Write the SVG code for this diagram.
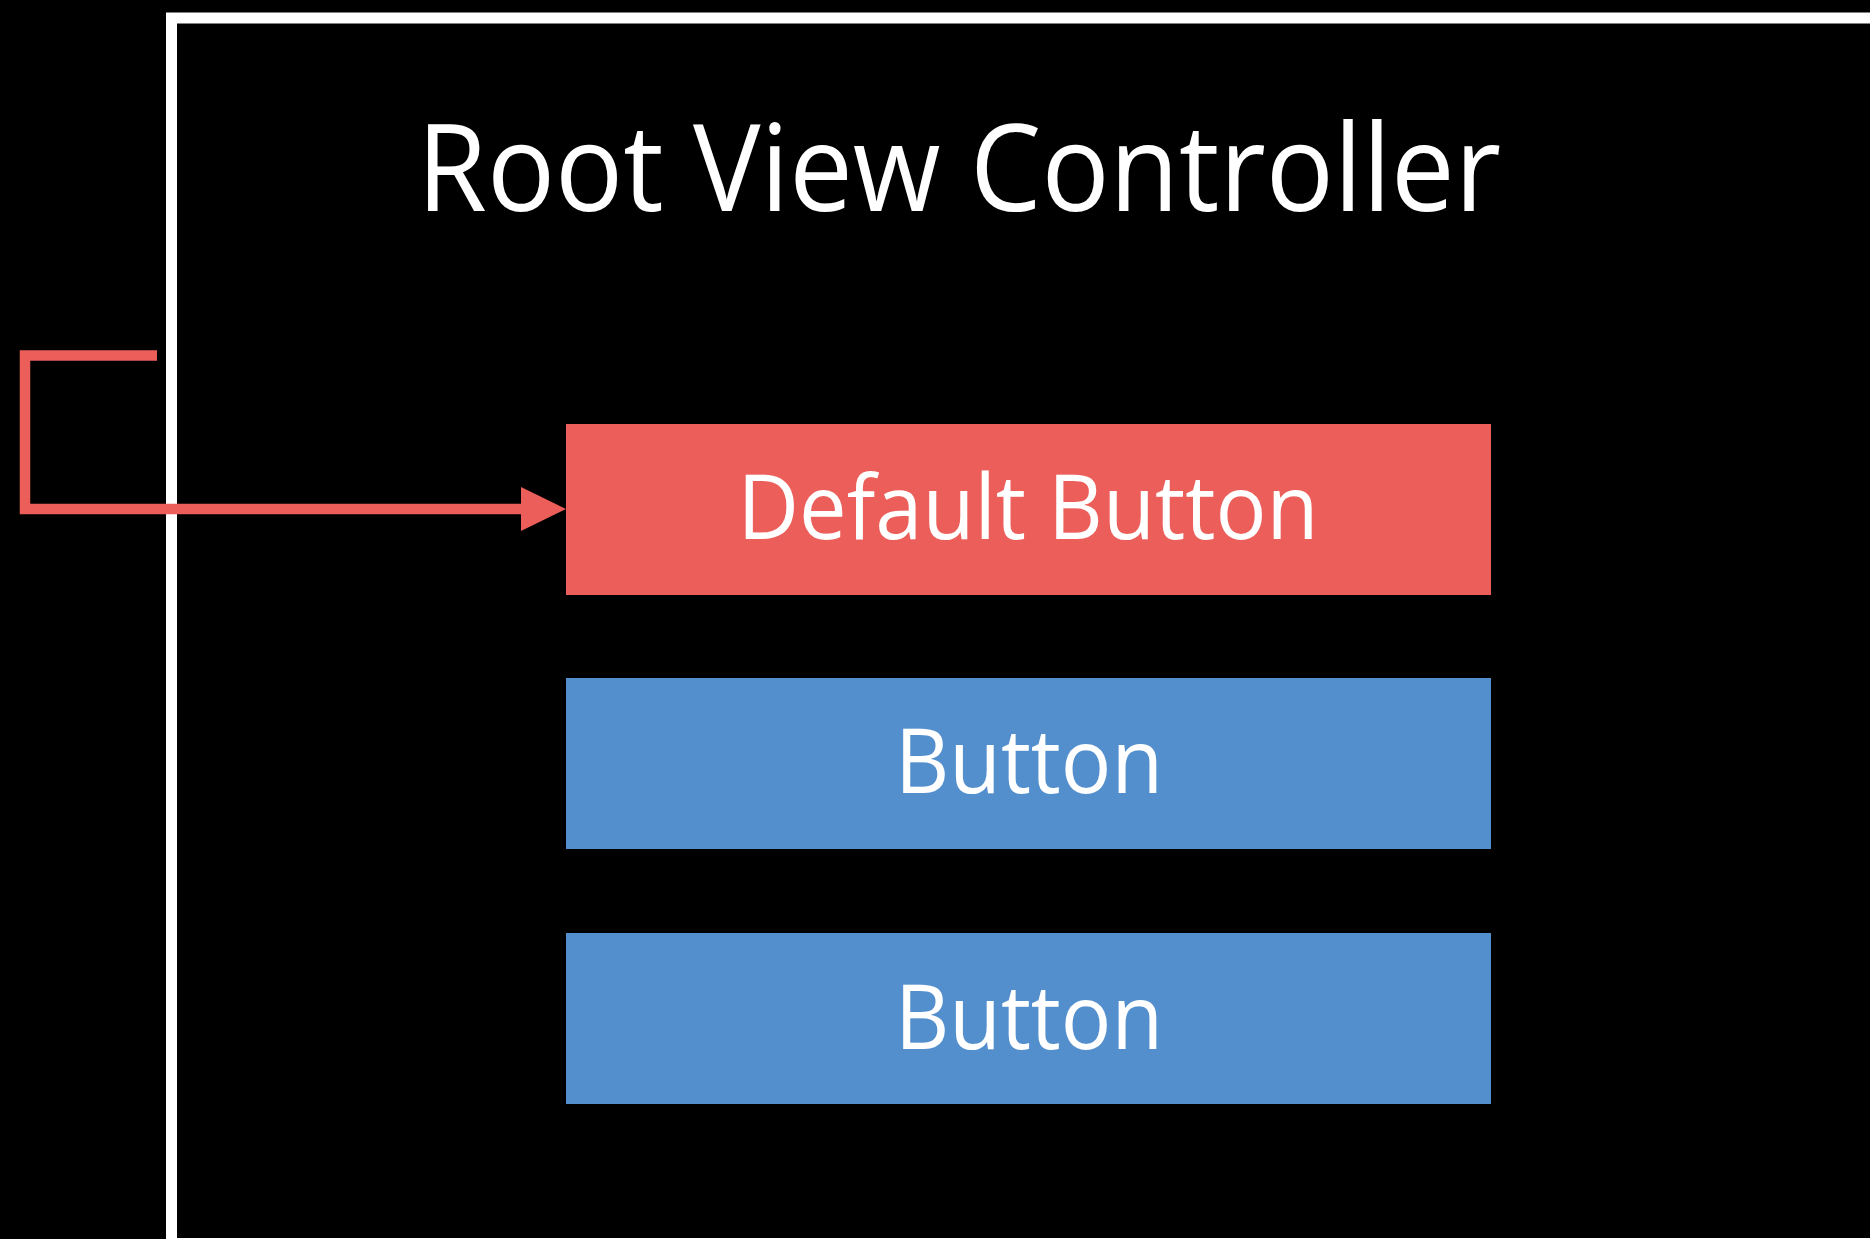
<svg xmlns="http://www.w3.org/2000/svg" width="1870" height="1239" viewBox="0 0 1870 1239">
<style>
.lbl{font-family:"Open Sans","Liberation Sans",sans-serif;fill:#ffffff;text-anchor:middle}
.red{fill:#EC5E59}
.blue{fill:#538FCD}
</style>
<rect x="0" y="0" width="1870" height="1239" fill="#000000"/>
<g id="root-view-controller">
<rect x="171.5" y="18" width="1800" height="1225.5" fill="none" stroke="#ffffff" stroke-width="11"/>
<text x="417" y="211" font-family="Open Sans, Liberation Sans, sans-serif" font-size="120" fill="#ffffff" textLength="1084" lengthAdjust="spacingAndGlyphs">Root View Controller</text>
</g>
<g id="default-button">
<rect class="red" x="566" y="424" width="925" height="171"/>
<text class="lbl" x="1028" y="539" font-size="89" textLength="581" lengthAdjust="spacingAndGlyphs">Default Button</text>
</g>
<g id="button-1">
<rect class="blue" x="566" y="678" width="925" height="171"/>
<text class="lbl" x="1029" y="793" font-size="90" textLength="268" lengthAdjust="spacingAndGlyphs">Button</text>
</g>
<g id="button-2">
<rect class="blue" x="566" y="933" width="925" height="171"/>
<text class="lbl" x="1029" y="1049" font-size="90" textLength="268" lengthAdjust="spacingAndGlyphs">Button</text>
</g>
<g id="connectors">
<polyline points="157,355.5 25,355.5 25,509 523,509" fill="none" stroke="#EC5E59" stroke-width="10.5"/>
<polygon points="521,487 566,509 521,531" fill="#EC5E59"/>
</g>
</svg>
